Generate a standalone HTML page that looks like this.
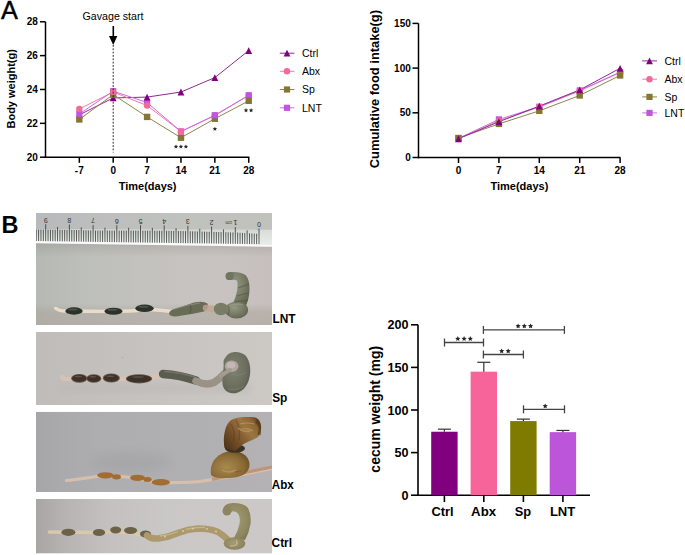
<!DOCTYPE html>
<html><head><meta charset="utf-8"><style>
html,body{margin:0;padding:0;background:#fff;}
body{width:685px;height:555px;overflow:hidden;position:relative;}
svg{position:absolute;left:0;top:0;font-family:"Liberation Sans", sans-serif;}
</style></head><body>
<svg width="685" height="555" viewBox="0 0 685 555">
<defs>
<filter id="b05" x="-20%" y="-20%" width="140%" height="140%"><feGaussianBlur stdDeviation="0.5"/></filter>
<filter id="b1" x="-20%" y="-20%" width="140%" height="140%"><feGaussianBlur stdDeviation="0.7"/></filter>
<filter id="b2" x="-20%" y="-20%" width="140%" height="140%"><feGaussianBlur stdDeviation="1.5"/></filter>
<filter id="b3" x="-30%" y="-30%" width="160%" height="160%"><feGaussianBlur stdDeviation="3"/></filter>
<filter id="b5" x="-30%" y="-30%" width="160%" height="160%"><feGaussianBlur stdDeviation="5"/></filter>
<linearGradient id="g1bg" x1="0" y1="0" x2="1" y2="0">
 <stop offset="0" stop-color="#b5b8b3"/><stop offset="0.2" stop-color="#bdbfba"/><stop offset="0.5" stop-color="#c4c2be"/><stop offset="0.75" stop-color="#c8c3c1"/><stop offset="1" stop-color="#c6bfbd"/>
</linearGradient>
<linearGradient id="g1h" x1="0" y1="0" x2="0" y2="1">
 <stop offset="0" stop-color="#9a948e" stop-opacity="0.55"/><stop offset="0.08" stop-color="#9a948e" stop-opacity="0.3"/><stop offset="0.2" stop-color="#9a948e" stop-opacity="0"/><stop offset="0.75" stop-color="#a8a098" stop-opacity="0"/><stop offset="0.85" stop-color="#a8a098" stop-opacity="0.45"/><stop offset="1" stop-color="#a8a098" stop-opacity="0.5"/>
</linearGradient>
<linearGradient id="rulerTop" x1="0" y1="0" x2="1" y2="0">
 <stop offset="0" stop-color="#b8b9bc"/><stop offset="0.3" stop-color="#bdbebd"/><stop offset="0.6" stop-color="#c0c2be"/><stop offset="1" stop-color="#c1c1bd"/>
</linearGradient>
<linearGradient id="rulerTick" x1="0" y1="0" x2="0" y2="1">
 <stop offset="0" stop-color="#cfd3d0"/><stop offset="0.4" stop-color="#dde4df"/><stop offset="0.7" stop-color="#ebf1ec"/><stop offset="1" stop-color="#f8faf8"/>
</linearGradient>
<linearGradient id="g2bg" x1="0" y1="0" x2="1" y2="0">
 <stop offset="0" stop-color="#c0bcba"/><stop offset="0.3" stop-color="#c4c0be"/><stop offset="0.7" stop-color="#c9c5c2"/><stop offset="1" stop-color="#ccc8c4"/>
</linearGradient>
<linearGradient id="g3bg" x1="0" y1="0" x2="1" y2="0">
 <stop offset="0" stop-color="#a6a5a7"/><stop offset="0.1" stop-color="#aaa9ab"/><stop offset="0.3" stop-color="#aeadaf"/><stop offset="0.7" stop-color="#b0afb1"/><stop offset="1" stop-color="#b4b2b4"/>
</linearGradient>
<linearGradient id="g4bg" x1="0" y1="0" x2="1" y2="0">
 <stop offset="0" stop-color="#a9a5a5"/><stop offset="0.12" stop-color="#b6b3b2"/><stop offset="0.3" stop-color="#c3c0bf"/><stop offset="0.55" stop-color="#cac8c6"/><stop offset="1" stop-color="#ccc8c8"/>
</linearGradient>
<radialGradient id="gLNT" cx="0.4" cy="0.35" r="0.7">
 <stop offset="0" stop-color="#959984"/><stop offset="0.6" stop-color="#767a64"/><stop offset="1" stop-color="#5e634e"/>
</radialGradient>
<radialGradient id="gSP" cx="0.4" cy="0.4" r="0.7">
 <stop offset="0" stop-color="#80826f"/><stop offset="0.7" stop-color="#6a6c5d"/><stop offset="1" stop-color="#56584a"/>
</radialGradient>
<radialGradient id="gAbx1" cx="0.45" cy="0.55" r="0.65">
 <stop offset="0" stop-color="#a88a4c"/><stop offset="0.6" stop-color="#8a6a32"/><stop offset="1" stop-color="#5c4422"/>
</radialGradient>
<radialGradient id="gAbx2" cx="0.4" cy="0.6" r="0.7">
 <stop offset="0" stop-color="#a88a50"/><stop offset="0.65" stop-color="#8a6a34"/><stop offset="1" stop-color="#664c26"/>
</radialGradient>
<linearGradient id="gAbxU" x1="226" y1="448" x2="262" y2="420" gradientUnits="userSpaceOnUse">
 <stop offset="0" stop-color="#4e3419"/><stop offset="0.3" stop-color="#76502a"/><stop offset="0.62" stop-color="#9c7640"/><stop offset="0.82" stop-color="#8a6434"/><stop offset="1" stop-color="#462c14"/>
</linearGradient>
<radialGradient id="gCtrl" cx="0.45" cy="0.45" r="0.7">
 <stop offset="0" stop-color="#a49c74"/><stop offset="0.7" stop-color="#8c855e"/><stop offset="1" stop-color="#746e4c"/>
</radialGradient>
<clipPath id="c1"><rect x="36" y="213" width="236" height="112"/></clipPath>
<clipPath id="c2"><rect x="36" y="332" width="236" height="73"/></clipPath>
<clipPath id="c3"><rect x="36" y="411.8" width="236" height="80.2"/></clipPath>
<clipPath id="c4"><rect x="36" y="499" width="236" height="54.6"/></clipPath>
</defs>
<g clip-path="url(#c1)">
<rect x="36" y="213" width="236" height="112" fill="url(#g1bg)"/>
<rect x="36" y="240" width="236" height="85" fill="url(#g1h)"/>
<polygon points="36,213 272,213 272,247 36,243" fill="url(#rulerTop)"/>
<polygon points="36,229 272,229.5 272,245 36,241.5" fill="url(#rulerTick)"/>
<polygon points="36,241 272,244.5 272,246.8 36,243.2" fill="#fafafa"/>
<polygon points="260,229.5 272,229.5 272,245 260,244.5" fill="#dfe2df" opacity="0.6"/>
<path d="M259.00,228.50V244.21 M256.63,233.75V244.18 M254.26,233.61V244.14 M251.89,233.46V244.11 M249.52,233.32V244.08 M247.15,230.37V244.04 M244.78,233.03V244.01 M242.41,232.88V243.97 M240.04,232.74V243.94 M237.67,232.59V243.91 M235.30,227.08V243.87 M232.93,232.42V243.84 M230.56,232.36V243.80 M228.19,232.30V243.77 M225.82,232.24V243.73 M223.45,229.38V243.70 M221.08,232.12V243.67 M218.71,232.06V243.63 M216.34,232.00V243.60 M213.97,231.94V243.56 M211.60,226.47V243.53 M209.23,231.80V243.50 M206.86,231.73V243.46 M204.49,231.66V243.43 M202.12,231.59V243.39 M199.75,228.72V243.36 M197.38,231.45V243.32 M195.01,231.38V243.29 M192.64,231.31V243.26 M190.27,231.24V243.22 M187.90,225.78V243.19 M185.53,231.14V243.15 M183.16,231.10V243.12 M180.79,231.06V243.09 M178.42,231.02V243.05 M176.05,228.18V243.02 M173.68,230.94V242.98 M171.31,230.90V242.95 M168.94,230.86V242.92 M166.57,230.82V242.88 M164.20,225.39V242.85 M161.83,230.77V242.81 M159.46,230.75V242.78 M157.09,230.73V242.74 M154.72,230.71V242.71 M152.35,227.89V242.68 M149.98,230.67V242.64 M147.61,230.65V242.61 M145.24,230.63V242.57 M142.87,230.61V242.54 M140.50,225.20V242.51 M138.13,230.60V242.47 M135.76,230.60V242.44 M133.39,230.60V242.40 M131.02,230.60V242.37 M128.65,227.80V242.33 M126.28,230.60V242.30 M123.91,230.60V242.27 M121.54,230.60V242.23 M119.17,230.60V242.20 M116.80,225.20V242.16 M114.43,230.59V242.13 M112.06,230.58V242.10 M109.69,230.57V242.06 M107.32,230.56V242.03 M104.95,227.75V241.99 M102.58,230.54V241.96 M100.21,230.53V241.93 M97.84,230.52V241.89 M95.47,230.51V241.86 M93.10,225.08V241.82 M90.73,230.42V241.79 M88.36,230.36V241.75 M85.99,230.30V241.72 M83.62,230.24V241.69 M81.25,227.38V241.65 M78.88,230.12V241.62 M76.51,230.06V241.58 M74.14,230.00V241.55 M71.77,229.94V241.52 M69.40,224.49V241.48 M67.03,229.86V241.45 M64.66,229.83V241.41 M62.29,229.80V241.38 M59.92,229.77V241.34 M57.55,226.94V241.31 M55.18,229.71V241.28 M52.81,229.68V241.24 M50.44,229.65V241.21 M48.07,229.62V241.17 M45.70,224.19V241.14 M43.33,229.57V241.11 M40.96,229.55V241.07 M38.59,229.52V241.04 M36.22,229.50V241.00" stroke="#2e2e2e" stroke-width="0.85" opacity="0.9" fill="none"/>
<text x="0" y="0" font-size="7" fill="#333" text-anchor="middle" transform="translate(259.00,221.90) rotate(180)">0</text>
<text x="0" y="0" font-size="7.6" fill="#333" text-anchor="middle" transform="translate(235.30,220.48) rotate(180)">1</text>
<text x="0" y="0" font-size="7" fill="#333" text-anchor="middle" transform="translate(211.60,219.87) rotate(180)">2</text>
<text x="0" y="0" font-size="7" fill="#333" text-anchor="middle" transform="translate(187.90,219.18) rotate(180)">3</text>
<text x="0" y="0" font-size="7" fill="#333" text-anchor="middle" transform="translate(164.20,218.79) rotate(180)">4</text>
<text x="0" y="0" font-size="7" fill="#333" text-anchor="middle" transform="translate(140.50,218.60) rotate(180)">5</text>
<text x="0" y="0" font-size="7" fill="#333" text-anchor="middle" transform="translate(116.80,218.60) rotate(180)">6</text>
<text x="0" y="0" font-size="7" fill="#333" text-anchor="middle" transform="translate(93.10,218.48) rotate(180)">7</text>
<text x="0" y="0" font-size="7" fill="#333" text-anchor="middle" transform="translate(69.40,217.89) rotate(180)">8</text>
<text x="0" y="0" font-size="7" fill="#333" text-anchor="middle" transform="translate(45.70,217.59) rotate(180)">9</text>
<text x="0" y="0" font-size="5" fill="#3a3a3a" text-anchor="middle" transform="translate(228.6,221.11) rotate(180)">cm</text>
<path d="M55.5,308 Q58,311 66,311 L110,311.5 Q130,311.5 150,309.5 Q160,310 172,311.5" stroke="#eadcc8" stroke-width="3.4" fill="none" stroke-linecap="round" filter="url(#b05)"/>
<ellipse cx="74" cy="311" rx="8.7" ry="3.7" fill="#2c312b" filter="url(#b05)"/>
<ellipse cx="73" cy="309.4" rx="4.8" ry="1" fill="#5a6058" opacity="0.7" filter="url(#b05)"/>
<ellipse cx="113.5" cy="311.3" rx="9.1" ry="3.5" fill="#2c312b" filter="url(#b05)"/>
<ellipse cx="112.5" cy="309.7" rx="5.0" ry="1" fill="#5a6058" opacity="0.7" filter="url(#b05)"/>
<ellipse cx="144.5" cy="308.3" rx="9.2" ry="3.7" fill="#2c312b" filter="url(#b05)"/>
<ellipse cx="143.5" cy="306.7" rx="5.1" ry="1" fill="#5a6058" opacity="0.7" filter="url(#b05)"/>
<g filter="url(#b05)">
<path d="M169,314 Q169,310.5 174,309 Q184,306 194,302.5 Q203,300.5 207.5,303.5 Q209.5,309 204,311.5 Q193,314 182,315.5 Q171,318 169,314Z" fill="#676c56"/>
<path d="M206,308 L214,309" stroke="#c4a690" stroke-width="6.5" stroke-linecap="round" opacity="0.8"/>
<ellipse cx="221" cy="309" rx="7.2" ry="6.2" fill="#787d67"/>
<path d="M225.5,276 Q225.5,272 231,272 Q240,271.5 245.5,275 Q250,280 249.5,290 Q249,301 245,307 L232,305 Q236,298 237,291 Q238,284 237,280.5 Q234,279.5 230,280 Q225.5,280.5 225.5,276Z" fill="url(#gLNT)"/>
<ellipse cx="236.5" cy="310" rx="11.6" ry="8.6" fill="url(#gLNT)"/>
<circle cx="229.8" cy="276.2" r="3.9" fill="#70755f"/>
</g>
<path d="M238,288 Q244,286 249,284 M237,296 Q243,294 249,293 M235,302 Q242,301 248,300 M228,305 Q230,310 228,315 M190,305 Q192,309 190,313" stroke="#4a4f3e" stroke-width="1.2" fill="none" opacity="0.55" filter="url(#b05)"/>
<path d="M174,309 Q186,305 200,303 M228,306 Q236,303 243,305" stroke="#9da08e" stroke-width="1.2" fill="none" opacity="0.6" filter="url(#b05)"/>
</g>
<g clip-path="url(#c2)">
<rect x="36" y="332" width="236" height="73" fill="url(#g2bg)"/>
<rect x="60" y="383" width="190" height="10" fill="#bab6b4" opacity="0.45" filter="url(#b3)"/>
<circle cx="122.5" cy="357.5" r="1" fill="#b8b4a8" filter="url(#b05)"/>
<path d="M62.5,377.5 Q64,380 70,379.5 L150,378.5 Q157,375.5 163,374.5" stroke="#d8c2b4" stroke-width="4.6" fill="none" stroke-linecap="round" filter="url(#b05)"/>
<ellipse cx="79.3" cy="378.3" rx="8.2" ry="4.4" fill="#6a5a4a" filter="url(#b05)"/>
<ellipse cx="79.3" cy="378.3" rx="7.199999999999999" ry="3.6" fill="#3c3229" filter="url(#b05)"/>
<ellipse cx="78.3" cy="376.5" rx="3.8" ry="0.8" fill="#7a6a5a" opacity="0.6" filter="url(#b05)"/>
<ellipse cx="93.8" cy="378.5" rx="7.6" ry="4.3" fill="#6a5a4a" filter="url(#b05)"/>
<ellipse cx="93.8" cy="378.5" rx="6.6" ry="3.5" fill="#3c3229" filter="url(#b05)"/>
<ellipse cx="92.8" cy="376.7" rx="3.5" ry="0.8" fill="#7a6a5a" opacity="0.6" filter="url(#b05)"/>
<ellipse cx="111.3" cy="378" rx="8.6" ry="4.5" fill="#6a5a4a" filter="url(#b05)"/>
<ellipse cx="111.3" cy="378" rx="7.6" ry="3.7" fill="#3c3229" filter="url(#b05)"/>
<ellipse cx="110.3" cy="376.2" rx="4.0" ry="0.8" fill="#7a6a5a" opacity="0.6" filter="url(#b05)"/>
<ellipse cx="139" cy="378.8" rx="13.1" ry="4.6" fill="#6a5a4a" filter="url(#b05)"/>
<ellipse cx="139" cy="378.8" rx="12.1" ry="3.8" fill="#3c3229" filter="url(#b05)"/>
<ellipse cx="138" cy="377.0" rx="6.2" ry="0.8" fill="#7a6a5a" opacity="0.6" filter="url(#b05)"/>
<g filter="url(#b05)">
<path d="M163,374 Q180,375 196,380.5" stroke="#5a5d4e" stroke-width="8.4" fill="none" stroke-linecap="round"/>
<path d="M165,371.5 Q180,372.3 195,377" stroke="#7c7e70" stroke-width="1.5" fill="none" stroke-linecap="round" opacity="0.7"/>
<path d="M196,381 Q206,386 214,382.5 Q219,379.5 224,374" stroke="#9a9286" stroke-width="7.4" fill="none" stroke-linecap="round"/>
<path d="M225.5,357.5 C228,351.5 238,349.8 245,355 C251,361 251.5,373 248.5,381 C245.5,389.5 239,393.8 232,393.3 C225,392.5 221.5,386.5 222.5,379.5 C223,374 224,366 223.5,362 C223.5,360 224.5,358.5 225.5,357.5Z" fill="url(#gSP)"/>
<ellipse cx="231.6" cy="366.2" rx="6.8" ry="5.8" fill="#b2a6a2"/>
<ellipse cx="231" cy="365.2" rx="4.2" ry="3.2" fill="#c4b8b4"/>
<path d="M221,376 Q226,372 230,370" stroke="#a49a90" stroke-width="4" fill="none" stroke-linecap="round"/>
</g>
<path d="M232,374 Q240,377 246,372 M228,389 Q236,391 244,386" stroke="#8a8c7c" stroke-width="1" fill="none" opacity="0.5" filter="url(#b05)"/>
</g>
<g clip-path="url(#c3)">
<rect x="36" y="411.8" width="236" height="80.2" fill="url(#g3bg)"/>
<ellipse cx="130" cy="462" rx="40" ry="10" fill="#9a9a9c" opacity="0.35" filter="url(#b5)"/>
<path d="M66.5,480.5 Q80,479 100,476 Q120,476 130,477.5 Q145,480 160,482.5 Q185,483 200,481.5 Q240,475 272,468.5" stroke="#d6c0ac" stroke-width="3.2" fill="none" stroke-linecap="round" filter="url(#b05)"/>
<ellipse cx="105.5" cy="475.3" rx="8.2" ry="3.1" fill="#a26c36" filter="url(#b05)"/>
<ellipse cx="116.5" cy="476.8" rx="4.5" ry="2.6" fill="#a26c36" filter="url(#b05)"/>
<ellipse cx="137.5" cy="477.8" rx="7.5" ry="3.1" fill="#a26c36" filter="url(#b05)"/>
<ellipse cx="147.5" cy="479.5" rx="4.2" ry="2.5" fill="#a26c36" filter="url(#b05)"/>
<ellipse cx="160.8" cy="482.3" rx="9.2" ry="3.2" fill="#a26c36" filter="url(#b05)"/>
<g filter="url(#b05)">
<path d="M212,479.5 L272,467" stroke="#c09478" stroke-width="3.2" fill="none"/>
<path d="M211,474.5 C209,462 218,452 232,451 C244,451 250,458 249.5,466 C248.5,474 240,478 228,478 C218,478 212,477.5 211,474.5Z" fill="url(#gAbx2)"/>
<ellipse cx="235" cy="448.5" rx="10" ry="4.2" fill="#3e3020"/>
<path d="M224.5,448 C223,440 224,428 229,422 C233,417 246,416.5 255,417.5 C261.5,419 263.5,430 258,437 C252,441 245,442 241,446 L235,451 Z" fill="url(#gAbxU)"/>
</g>
<path d="M256,421 Q262,426 259,435" stroke="#4a3418" stroke-width="3" fill="none" opacity="0.6" filter="url(#b1)"/>
<path d="M240,424 Q248,422 254,424 M241,429 Q249,428 253,431" stroke="#caa870" stroke-width="1.2" fill="none" opacity="0.6" filter="url(#b05)"/>
<path d="M231,424 Q236,432 233,442 M236,420 Q241,430 239,440" stroke="#5a3c1c" stroke-width="1.3" fill="none" opacity="0.45" filter="url(#b05)"/>
<path d="M222,470 Q228,474 236,470 M238,428 Q244,433 250,431" stroke="#c0a468" stroke-width="1.4" fill="none" opacity="0.6" filter="url(#b05)"/>
<path d="M235,472 L241,471" stroke="#a04830" stroke-width="1.5" opacity="0.6" filter="url(#b05)"/>
</g>
<g clip-path="url(#c4)">
<rect x="36" y="499" width="236" height="54.6" fill="url(#g4bg)"/>
<path d="M49.5,532 L100,532.5 Q120,530 150,536.5" stroke="#d8c8ac" stroke-width="3.6" fill="none" stroke-linecap="round" filter="url(#b05)"/>
<ellipse cx="68.4" cy="532.3" rx="7" ry="3.6" fill="#6c6248" filter="url(#b05)"/>
<ellipse cx="99" cy="532.5" rx="6.2" ry="3.5" fill="#6c6248" filter="url(#b05)"/>
<ellipse cx="115.7" cy="530" rx="5.5" ry="3.4" fill="#6c6248" filter="url(#b05)"/>
<ellipse cx="130.6" cy="530.5" rx="6.5" ry="3.4" fill="#6c6248" filter="url(#b05)"/>
<ellipse cx="145.5" cy="534" rx="5.5" ry="3.4" fill="#6c6248" filter="url(#b05)"/>
<g filter="url(#b05)">
<path d="M147,535.5 Q151,539 158,538.5 Q168,537.5 178,533 Q188,529 198,528.5 Q210,528.5 218,532 Q223,535 227,539" stroke="#ad9a6c" stroke-width="6.6" fill="none" stroke-linecap="round"/>
<path d="M223,510 Q224,503 233,503 Q244,503 248,508 Q251.5,515 250.5,524 Q249,533 245,540 L234,538 Q238,531 239.5,524 Q241,515 236,512 Q231,510 229,514 Q224,516 223,510Z" fill="url(#gCtrl)"/>
<ellipse cx="234.5" cy="543.5" rx="10.8" ry="6.2" fill="url(#gCtrl)"/>
<circle cx="227" cy="511" r="4.5" fill="#8c855e"/>
</g>
<path d="M160,536 Q170,535 178,531.5 M186,529.5 Q195,527 205,527.5 M236,540 Q240,546 230,546" stroke="#d4c49a" stroke-width="1.3" fill="none" opacity="0.65" filter="url(#b05)"/>
<circle cx="165" cy="536.5" r="0.9" fill="#e8dcb8" opacity="0.8" filter="url(#b05)"/>
<circle cx="183" cy="531" r="0.9" fill="#e8dcb8" opacity="0.8" filter="url(#b05)"/>
<circle cx="193" cy="528.6" r="0.9" fill="#e8dcb8" opacity="0.8" filter="url(#b05)"/>
<circle cx="207" cy="528.8" r="0.9" fill="#e8dcb8" opacity="0.8" filter="url(#b05)"/>
<circle cx="216" cy="531.5" r="0.9" fill="#e8dcb8" opacity="0.8" filter="url(#b05)"/>
</g>
<text x="272.4" y="322.7" font-size="12.8" font-weight="bold" textLength="23.2" lengthAdjust="spacingAndGlyphs">LNT</text>
<text x="272.2" y="402.2" font-size="12.8" font-weight="bold" textLength="15.2" lengthAdjust="spacingAndGlyphs">Sp</text>
<text x="271.8" y="489.1" font-size="12.8" font-weight="bold" textLength="22.0" lengthAdjust="spacingAndGlyphs">Abx</text>
<text x="271.6" y="547.1" font-size="12.8" font-weight="bold" textLength="20.4" lengthAdjust="spacingAndGlyphs">Ctrl</text>
<text x="1.0" y="19" font-size="25.3" font-weight="normal" text-anchor="start" fill="#000" stroke="#000" stroke-width="0.45">A</text>
<text x="82.6" y="19.9" font-size="10.8" font-weight="normal" text-anchor="start" fill="#000" textLength="60.8" lengthAdjust="spacingAndGlyphs">Gavage start</text>
<line x1="113.3" y1="26" x2="113.3" y2="37" stroke="#000" stroke-width="1.6" />
<polygon points="109,36 117.4,36 113.2,45" fill="#000"/>
<line x1="45.5" y1="21.8" x2="45.5" y2="157.95" stroke="#000" stroke-width="1.5" />
<line x1="44.75" y1="157.2" x2="249.4" y2="157.2" stroke="#000" stroke-width="1.5" />
<line x1="40" y1="157.2" x2="45.5" y2="157.2" stroke="#000" stroke-width="1.5" />
<text x="37.8" y="160.79999999999998" font-size="10" font-weight="bold" text-anchor="end" fill="#000" >20</text>
<line x1="40" y1="123.33999999999999" x2="45.5" y2="123.33999999999999" stroke="#000" stroke-width="1.5" />
<text x="37.8" y="126.93999999999998" font-size="10" font-weight="bold" text-anchor="end" fill="#000" >22</text>
<line x1="40" y1="89.47999999999999" x2="45.5" y2="89.47999999999999" stroke="#000" stroke-width="1.5" />
<text x="37.8" y="93.07999999999998" font-size="10" font-weight="bold" text-anchor="end" fill="#000" >24</text>
<line x1="40" y1="55.61999999999999" x2="45.5" y2="55.61999999999999" stroke="#000" stroke-width="1.5" />
<text x="37.8" y="59.21999999999999" font-size="10" font-weight="bold" text-anchor="end" fill="#000" >26</text>
<line x1="40" y1="21.75999999999999" x2="45.5" y2="21.75999999999999" stroke="#000" stroke-width="1.5" />
<text x="37.8" y="25.359999999999992" font-size="10" font-weight="bold" text-anchor="end" fill="#000" >28</text>
<line x1="79.32000000000001" y1="157.2" x2="79.32000000000001" y2="162.8" stroke="#000" stroke-width="1.5" />
<text x="79.32000000000001" y="173.6" font-size="10" font-weight="bold" text-anchor="middle" fill="#000" >-7</text>
<line x1="113.2" y1="157.2" x2="113.2" y2="162.8" stroke="#000" stroke-width="1.5" />
<text x="113.2" y="173.6" font-size="10" font-weight="bold" text-anchor="middle" fill="#000" >0</text>
<line x1="147.07999999999998" y1="157.2" x2="147.07999999999998" y2="162.8" stroke="#000" stroke-width="1.5" />
<text x="147.07999999999998" y="173.6" font-size="10" font-weight="bold" text-anchor="middle" fill="#000" >7</text>
<line x1="180.95999999999998" y1="157.2" x2="180.95999999999998" y2="162.8" stroke="#000" stroke-width="1.5" />
<text x="180.95999999999998" y="173.6" font-size="10" font-weight="bold" text-anchor="middle" fill="#000" >14</text>
<line x1="214.84" y1="157.2" x2="214.84" y2="162.8" stroke="#000" stroke-width="1.5" />
<text x="214.84" y="173.6" font-size="10" font-weight="bold" text-anchor="middle" fill="#000" >21</text>
<line x1="248.71999999999997" y1="157.2" x2="248.71999999999997" y2="162.8" stroke="#000" stroke-width="1.5" />
<text x="248.71999999999997" y="173.6" font-size="10" font-weight="bold" text-anchor="middle" fill="#000" >28</text>
<text x="147.6" y="189.5" font-size="11" font-weight="bold" text-anchor="middle" fill="#000" >Time(days)</text>
<text x="0" y="0" font-size="11" font-weight="bold" text-anchor="middle" fill="#000" transform="translate(15.3,88.8) rotate(-90)">Body weight(g)</text>
<polyline points="79.32,114.87 113.20,97.94 147.08,97.10 180.96,92.02 214.84,77.63 248.72,50.54" fill="none" stroke="#8f2a8f" stroke-width="1.0" />
<polyline points="79.32,108.95 113.20,92.02 147.08,105.56 180.96,131.47 214.84,115.55 248.72,95.41" fill="none" stroke="#f47aa6" stroke-width="1.0" />
<polyline points="79.32,119.45 113.20,94.56 147.08,116.91 180.96,137.73 214.84,118.77 248.72,100.82" fill="none" stroke="#8e8450" stroke-width="1.0" />
<polyline points="79.32,114.03 113.20,91.17 147.08,102.52 180.96,131.47 214.84,115.21 248.72,95.24" fill="none" stroke="#c86ee6" stroke-width="1.0" />
<polygon points="75.92,118.27 82.72,118.27 79.32,111.47" fill="#800080"/>
<rect x="76.12" y="116.25" width="6.4" height="6.4" fill="#857733"/>
<rect x="76.22" y="110.93" width="6.2" height="6.2" fill="#C155DF"/>
<circle cx="79.32" cy="108.95" r="3.2" fill="#F4689A"/>
<rect x="110.10" y="88.07" width="6.2" height="6.2" fill="#C155DF"/>
<polygon points="109.80,101.34 116.60,101.34 113.20,94.54" fill="#800080"/>
<rect x="110.00" y="91.36" width="6.4" height="6.4" fill="#857733"/>
<circle cx="113.20" cy="92.02" r="3.2" fill="#F4689A"/>
<rect x="143.88" y="113.71" width="6.4" height="6.4" fill="#857733"/>
<rect x="143.98" y="99.42" width="6.2" height="6.2" fill="#C155DF"/>
<circle cx="147.08" cy="105.56" r="3.2" fill="#F4689A"/>
<polygon points="143.68,100.50 150.48,100.50 147.08,93.70" fill="#800080"/>
<polygon points="177.56,95.42 184.36,95.42 180.96,88.62" fill="#800080"/>
<rect x="177.76" y="134.53" width="6.4" height="6.4" fill="#857733"/>
<rect x="177.86" y="128.37" width="6.2" height="6.2" fill="#C155DF"/>
<circle cx="180.96" cy="131.47" r="3.2" fill="#F4689A"/>
<circle cx="214.84" cy="115.55" r="3.2" fill="#F4689A"/>
<rect x="211.64" y="115.57" width="6.4" height="6.4" fill="#857733"/>
<rect x="211.74" y="112.11" width="6.2" height="6.2" fill="#C155DF"/>
<polygon points="211.44,81.03 218.24,81.03 214.84,74.23" fill="#800080"/>
<circle cx="248.72" cy="95.41" r="3.2" fill="#F4689A"/>
<rect x="245.62" y="92.14" width="6.2" height="6.2" fill="#C155DF"/>
<rect x="245.52" y="97.62" width="6.4" height="6.4" fill="#857733"/>
<polygon points="245.32,53.94 252.12,53.94 248.72,47.14" fill="#800080"/>
<line x1="113.2" y1="45" x2="113.2" y2="152.5" stroke="#222" stroke-width="1.0" stroke-dasharray="1.8,1.54"/>
<polygon points="176.00,144.43 176.65,145.84 178.19,146.02 177.05,147.07 177.35,148.59 176.00,147.83 174.65,148.59 174.95,147.07 173.81,146.02 175.35,145.84" fill="#2a2a2a"/>
<polygon points="180.90,144.43 181.55,145.84 183.09,146.02 181.95,147.07 182.25,148.59 180.90,147.83 179.55,148.59 179.85,147.07 178.71,146.02 180.25,145.84" fill="#2a2a2a"/>
<polygon points="185.90,144.43 186.55,145.84 188.09,146.02 186.95,147.07 187.25,148.59 185.90,147.83 184.55,148.59 184.85,147.07 183.71,146.02 185.25,145.84" fill="#2a2a2a"/>
<polygon points="214.90,126.63 215.55,128.04 217.09,128.22 215.95,129.27 216.25,130.79 214.90,130.03 213.55,130.79 213.85,129.27 212.71,128.22 214.25,128.04" fill="#2a2a2a"/>
<polygon points="246.00,108.03 246.65,109.44 248.19,109.62 247.05,110.67 247.35,112.19 246.00,111.43 244.65,112.19 244.95,110.67 243.81,109.62 245.35,109.44" fill="#2a2a2a"/>
<polygon points="251.10,108.03 251.75,109.44 253.29,109.62 252.15,110.67 252.45,112.19 251.10,111.43 249.75,112.19 250.05,110.67 248.91,109.62 250.45,109.44" fill="#2a2a2a"/>
<line x1="279.8" y1="53.2" x2="294.4" y2="53.2" stroke="#8f2a8f" stroke-width="1.0" />
<polygon points="283.60,56.60 290.40,56.60 287.00,49.80" fill="#800080"/>
<text x="302" y="57.0" font-size="10.5" font-weight="normal" text-anchor="start" fill="#000" >Ctrl</text>
<line x1="279.8" y1="71.3" x2="294.4" y2="71.3" stroke="#f47aa6" stroke-width="1.0" />
<circle cx="287.00" cy="71.30" r="3.2" fill="#F4689A"/>
<text x="302" y="75.1" font-size="10.5" font-weight="normal" text-anchor="start" fill="#000" >Abx</text>
<line x1="279.8" y1="89.5" x2="294.4" y2="89.5" stroke="#8e8450" stroke-width="1.0" />
<rect x="283.90" y="86.40" width="6.2" height="6.2" fill="#857733"/>
<text x="302" y="93.3" font-size="10.5" font-weight="normal" text-anchor="start" fill="#000" >Sp</text>
<line x1="279.8" y1="107.8" x2="294.4" y2="107.8" stroke="#c86ee6" stroke-width="1.0" />
<rect x="283.90" y="104.70" width="6.2" height="6.2" fill="#C155DF"/>
<text x="302" y="111.6" font-size="10.5" font-weight="normal" text-anchor="start" fill="#000" >LNT</text>
<line x1="418.5" y1="23.3" x2="418.5" y2="158.25" stroke="#000" stroke-width="1.5" />
<line x1="417.75" y1="157.5" x2="620.4" y2="157.5" stroke="#000" stroke-width="1.5" />
<line x1="412.5" y1="157.5" x2="418.5" y2="157.5" stroke="#000" stroke-width="1.5" />
<text x="410.8" y="161.1" font-size="10" font-weight="bold" text-anchor="end" fill="#000" >0</text>
<line x1="412.5" y1="112.8" x2="418.5" y2="112.8" stroke="#000" stroke-width="1.5" />
<text x="410.8" y="116.39999999999999" font-size="10" font-weight="bold" text-anchor="end" fill="#000" >50</text>
<line x1="412.5" y1="68.1" x2="418.5" y2="68.1" stroke="#000" stroke-width="1.5" />
<text x="410.8" y="71.69999999999999" font-size="10" font-weight="bold" text-anchor="end" fill="#000" >100</text>
<line x1="412.5" y1="23.400000000000006" x2="418.5" y2="23.400000000000006" stroke="#000" stroke-width="1.5" />
<text x="410.8" y="27.000000000000007" font-size="10" font-weight="bold" text-anchor="end" fill="#000" >150</text>
<line x1="458.5" y1="157.5" x2="458.5" y2="163" stroke="#000" stroke-width="1.5" />
<text x="458.5" y="173.6" font-size="10" font-weight="bold" text-anchor="middle" fill="#000" >0</text>
<line x1="498.9" y1="157.5" x2="498.9" y2="163" stroke="#000" stroke-width="1.5" />
<text x="498.9" y="173.6" font-size="10" font-weight="bold" text-anchor="middle" fill="#000" >7</text>
<line x1="539.3" y1="157.5" x2="539.3" y2="163" stroke="#000" stroke-width="1.5" />
<text x="539.3" y="173.6" font-size="10" font-weight="bold" text-anchor="middle" fill="#000" >14</text>
<line x1="579.7" y1="157.5" x2="579.7" y2="163" stroke="#000" stroke-width="1.5" />
<text x="579.7" y="173.6" font-size="10" font-weight="bold" text-anchor="middle" fill="#000" >21</text>
<line x1="620.1" y1="157.5" x2="620.1" y2="163" stroke="#000" stroke-width="1.5" />
<text x="620.1" y="173.6" font-size="10" font-weight="bold" text-anchor="middle" fill="#000" >28</text>
<text x="519.4" y="189.5" font-size="11" font-weight="bold" text-anchor="middle" fill="#000" >Time(days)</text>
<text x="0" y="0" font-size="12.9" font-weight="bold" text-anchor="middle" fill="#000" transform="translate(379.2,89.1) rotate(-90)">Cumulative food intake(g)</text>
<polyline points="458.50,138.01 498.90,123.89 539.30,110.83 579.70,95.46 620.10,75.43" fill="none" stroke="#8e8450" stroke-width="1.0" />
<polyline points="458.50,138.73 498.90,120.85 539.30,106.99 579.70,90.90 620.10,72.57" fill="none" stroke="#f47aa6" stroke-width="1.0" />
<polyline points="458.50,138.28 498.90,119.42 539.30,106.72 579.70,90.45 620.10,72.12" fill="none" stroke="#c86ee6" stroke-width="1.0" />
<polyline points="458.50,138.73 498.90,121.74 539.30,106.09 579.70,89.91 620.10,68.28" fill="none" stroke="#8f2a8f" stroke-width="1.0" />
<rect x="455.40" y="135.18" width="6.2" height="6.2" fill="#C155DF"/>
<rect x="495.80" y="116.32" width="6.2" height="6.2" fill="#C155DF"/>
<rect x="536.20" y="103.62" width="6.2" height="6.2" fill="#C155DF"/>
<rect x="576.60" y="87.35" width="6.2" height="6.2" fill="#C155DF"/>
<rect x="617.00" y="69.02" width="6.2" height="6.2" fill="#C155DF"/>
<circle cx="458.50" cy="138.73" r="3.2" fill="#F4689A"/>
<circle cx="498.90" cy="120.85" r="3.2" fill="#F4689A"/>
<circle cx="539.30" cy="106.99" r="3.2" fill="#F4689A"/>
<circle cx="579.70" cy="90.90" r="3.2" fill="#F4689A"/>
<circle cx="620.10" cy="72.57" r="3.2" fill="#F4689A"/>
<rect x="455.30" y="134.81" width="6.4" height="6.4" fill="#857733"/>
<rect x="495.70" y="120.69" width="6.4" height="6.4" fill="#857733"/>
<rect x="536.10" y="107.63" width="6.4" height="6.4" fill="#857733"/>
<rect x="576.50" y="92.26" width="6.4" height="6.4" fill="#857733"/>
<rect x="616.90" y="72.23" width="6.4" height="6.4" fill="#857733"/>
<polygon points="455.10,142.13 461.90,142.13 458.50,135.33" fill="#800080"/>
<polygon points="495.50,125.14 502.30,125.14 498.90,118.34" fill="#800080"/>
<polygon points="535.90,109.50 542.70,109.50 539.30,102.69" fill="#800080"/>
<polygon points="576.30,93.31 583.10,93.31 579.70,86.51" fill="#800080"/>
<polygon points="616.70,71.68 623.50,71.68 620.10,64.88" fill="#800080"/>
<line x1="642.2" y1="60.9" x2="657" y2="60.9" stroke="#8f2a8f" stroke-width="1.0" />
<polygon points="646.10,64.30 652.90,64.30 649.50,57.50" fill="#800080"/>
<text x="664.5" y="64.7" font-size="10.5" font-weight="normal" text-anchor="start" fill="#000" >Ctrl</text>
<line x1="642.2" y1="79.2" x2="657" y2="79.2" stroke="#f47aa6" stroke-width="1.0" />
<circle cx="649.50" cy="79.20" r="3.2" fill="#F4689A"/>
<text x="664.5" y="83.0" font-size="10.5" font-weight="normal" text-anchor="start" fill="#000" >Abx</text>
<line x1="642.2" y1="96.9" x2="657" y2="96.9" stroke="#8e8450" stroke-width="1.0" />
<rect x="646.40" y="93.80" width="6.2" height="6.2" fill="#857733"/>
<text x="664.5" y="100.7" font-size="10.5" font-weight="normal" text-anchor="start" fill="#000" >Sp</text>
<line x1="642.2" y1="112.9" x2="657" y2="112.9" stroke="#c86ee6" stroke-width="1.0" />
<rect x="646.40" y="109.80" width="6.2" height="6.2" fill="#C155DF"/>
<text x="664.5" y="116.7" font-size="10.5" font-weight="normal" text-anchor="start" fill="#000" >LNT</text>
<text x="1.5" y="232.8" font-size="23.5" font-weight="bold" text-anchor="start" fill="#000" >B</text>
<line x1="418" y1="324.7" x2="418" y2="495.95" stroke="#000" stroke-width="1.6" />
<line x1="417.2" y1="495.2" x2="590" y2="495.2" stroke="#000" stroke-width="1.6" />
<line x1="411" y1="495.2" x2="418" y2="495.2" stroke="#000" stroke-width="1.6" />
<text x="408.6" y="499.8" font-size="12.6" font-weight="bold" text-anchor="end" fill="#000" >0</text>
<line x1="411" y1="452.59999999999997" x2="418" y2="452.59999999999997" stroke="#000" stroke-width="1.6" />
<text x="408.6" y="457.2" font-size="12.6" font-weight="bold" text-anchor="end" fill="#000" >50</text>
<line x1="411" y1="410.0" x2="418" y2="410.0" stroke="#000" stroke-width="1.6" />
<text x="408.6" y="414.6" font-size="12.6" font-weight="bold" text-anchor="end" fill="#000" >100</text>
<line x1="411" y1="367.4" x2="418" y2="367.4" stroke="#000" stroke-width="1.6" />
<text x="408.6" y="372.0" font-size="12.6" font-weight="bold" text-anchor="end" fill="#000" >150</text>
<line x1="411" y1="324.79999999999995" x2="418" y2="324.79999999999995" stroke="#000" stroke-width="1.6" />
<text x="408.6" y="329.4" font-size="12.6" font-weight="bold" text-anchor="end" fill="#000" >200</text>
<rect x="431.20" y="431.73" width="26.4" height="63.47" fill="#800080"/>
<line x1="444.4" y1="431.726" x2="444.4" y2="429.16999999999996" stroke="#333" stroke-width="1.2" />
<line x1="437.9" y1="429.16999999999996" x2="450.9" y2="429.16999999999996" stroke="#333" stroke-width="1.2" />
<line x1="444.4" y1="495.2" x2="444.4" y2="502" stroke="#000" stroke-width="1.6" />
<rect x="470.60" y="371.66" width="26.4" height="123.54" fill="#F7649A"/>
<line x1="483.8" y1="371.65999999999997" x2="483.8" y2="362.288" stroke="#333" stroke-width="1.2" />
<line x1="477.3" y1="362.288" x2="490.3" y2="362.288" stroke="#333" stroke-width="1.2" />
<line x1="483.8" y1="495.2" x2="483.8" y2="502" stroke="#000" stroke-width="1.6" />
<rect x="510.20" y="421.08" width="26.4" height="74.12" fill="#7F7A00"/>
<line x1="523.4" y1="421.076" x2="523.4" y2="419.1164" stroke="#333" stroke-width="1.2" />
<line x1="516.9" y1="419.1164" x2="529.9" y2="419.1164" stroke="#333" stroke-width="1.2" />
<line x1="523.4" y1="495.2" x2="523.4" y2="502" stroke="#000" stroke-width="1.6" />
<rect x="549.70" y="432.15" width="26.4" height="63.05" fill="#BC55DA"/>
<line x1="562.9" y1="432.152" x2="562.9" y2="430.448" stroke="#333" stroke-width="1.2" />
<line x1="556.4" y1="430.448" x2="569.4" y2="430.448" stroke="#333" stroke-width="1.2" />
<line x1="562.9" y1="495.2" x2="562.9" y2="502" stroke="#000" stroke-width="1.6" />
<text x="0" y="0" font-size="14" font-weight="bold" text-anchor="middle" fill="#000" transform="translate(380.2,409.25) rotate(-90)">cecum weight (mg)</text>
<line x1="444.5" y1="342.5" x2="483.5" y2="342.5" stroke="#444" stroke-width="1.3" />
<line x1="444.5" y1="338.5" x2="444.5" y2="346.5" stroke="#444" stroke-width="1.3" />
<line x1="483.5" y1="338.5" x2="483.5" y2="346.5" stroke="#444" stroke-width="1.3" />
<polygon points="457.80,336.07 458.56,337.72 460.37,337.94 459.03,339.17 459.39,340.95 457.80,340.07 456.21,340.95 456.57,339.17 455.23,337.94 457.04,337.72" fill="#262626"/>
<polygon points="464.10,336.07 464.86,337.72 466.67,337.94 465.33,339.17 465.69,340.95 464.10,340.07 462.51,340.95 462.87,339.17 461.53,337.94 463.34,337.72" fill="#262626"/>
<polygon points="470.30,336.07 471.06,337.72 472.87,337.94 471.53,339.17 471.89,340.95 470.30,340.07 468.71,340.95 469.07,339.17 467.73,337.94 469.54,337.72" fill="#262626"/>
<line x1="483.4" y1="329.9" x2="564.4" y2="329.9" stroke="#444" stroke-width="1.3" />
<line x1="483.4" y1="325.9" x2="483.4" y2="333.9" stroke="#444" stroke-width="1.3" />
<line x1="564.4" y1="325.9" x2="564.4" y2="333.9" stroke="#444" stroke-width="1.3" />
<polygon points="518.10,323.47 518.86,325.12 520.67,325.34 519.33,326.57 519.69,328.35 518.10,327.47 516.51,328.35 516.87,326.57 515.53,325.34 517.34,325.12" fill="#262626"/>
<polygon points="524.30,323.47 525.06,325.12 526.87,325.34 525.53,326.57 525.89,328.35 524.30,327.47 522.71,328.35 523.07,326.57 521.73,325.34 523.54,325.12" fill="#262626"/>
<polygon points="530.60,323.47 531.36,325.12 533.17,325.34 531.83,326.57 532.19,328.35 530.60,327.47 529.01,328.35 529.37,326.57 528.03,325.34 529.84,325.12" fill="#262626"/>
<line x1="483.4" y1="354.5" x2="523.4" y2="354.5" stroke="#444" stroke-width="1.3" />
<line x1="483.4" y1="350.5" x2="483.4" y2="358.5" stroke="#444" stroke-width="1.3" />
<line x1="523.4" y1="350.5" x2="523.4" y2="358.5" stroke="#444" stroke-width="1.3" />
<polygon points="501.70,348.47 502.46,350.12 504.27,350.34 502.93,351.57 503.29,353.35 501.70,352.47 500.11,353.35 500.47,351.57 499.13,350.34 500.94,350.12" fill="#262626"/>
<polygon points="508.20,348.47 508.96,350.12 510.77,350.34 509.43,351.57 509.79,353.35 508.20,352.47 506.61,353.35 506.97,351.57 505.63,350.34 507.44,350.12" fill="#262626"/>
<line x1="523.5" y1="409.3" x2="564.5" y2="409.3" stroke="#444" stroke-width="1.3" />
<line x1="523.5" y1="405.3" x2="523.5" y2="413.3" stroke="#444" stroke-width="1.3" />
<line x1="564.5" y1="405.3" x2="564.5" y2="413.3" stroke="#444" stroke-width="1.3" />
<polygon points="545.20,403.47 545.96,405.12 547.77,405.34 546.43,406.57 546.79,408.35 545.20,407.47 543.61,408.35 543.97,406.57 542.63,405.34 544.44,405.12" fill="#262626"/>
<text x="431.4" y="516.2" font-size="13" font-weight="bold" textLength="22.1" lengthAdjust="spacingAndGlyphs">Ctrl</text>
<text x="471.09999999999997" y="516.2" font-size="13" font-weight="bold" textLength="25.0" lengthAdjust="spacingAndGlyphs">Abx</text>
<text x="514.6999999999999" y="516.2" font-size="13" font-weight="bold" textLength="16.4" lengthAdjust="spacingAndGlyphs">Sp</text>
<text x="549.9" y="516.2" font-size="13" font-weight="bold" textLength="25.400000000000002" lengthAdjust="spacingAndGlyphs">LNT</text>
</svg>
</body></html>
